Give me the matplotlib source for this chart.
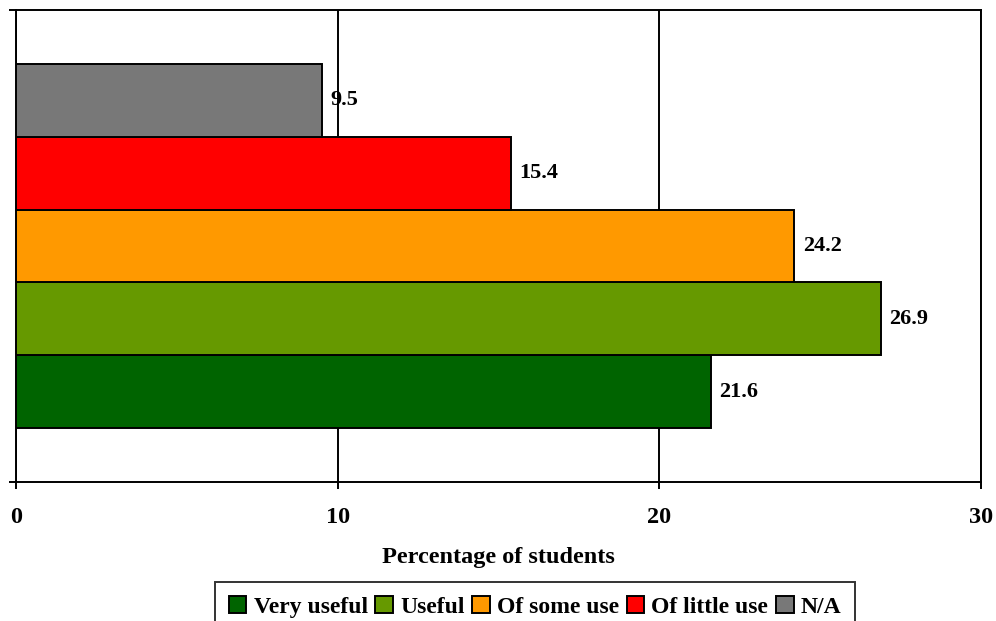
import matplotlib
matplotlib.use("Agg")
import matplotlib.pyplot as plt
import numpy as np

# Survey responses: how useful students found the resource
categories = ["Very useful", "Useful", "Of some use", "Of little use", "N/A"]
percentages = [21.6, 26.9, 24.2, 15.4, 9.5]
colors = ["#006400", "#669900", "#FF9900", "#FF0000", "#787878"]
x_ticks = [0, 10, 20, 30]

plt.rcParams["font.family"] = ["Liberation Serif", "DejaVu Serif"]
plt.rcParams["font.weight"] = "bold"

fig = plt.figure(figsize=(9.96, 6.21), dpi=100)
ax = fig.add_axes([16 / 996, 1 - 482 / 621, 965 / 996, 472 / 621])

n = len(categories)
bar_h = 0.771 / n
offsets = (np.arange(n) - (n - 1) / 2) * bar_h

for cat, val, col, off in zip(categories, percentages, colors, offsets):
    ax.barh(off, val, height=bar_h, color=col, edgecolor="black",
            linewidth=1.4, label=cat, zorder=3)
    ax.annotate(f"{val:.1f}", xy=(val, off), xytext=(6, 0),
                textcoords="offset points", ha="left", va="center",
                fontsize=16, fontweight="bold", zorder=4)

ax.set_xlim(0, 30)
ax.set_ylim(-0.5, 0.5)
ax.set_xticks(x_ticks)
ax.set_xticklabels([str(t) for t in x_ticks], fontsize=17.5, fontweight="bold")
ax.set_yticks([-0.5, 0.5])
ax.set_yticklabels([])
ax.tick_params(axis="both", direction="out", length=5, width=1.4, color="black")
ax.tick_params(axis="x", pad=13)
ax.xaxis.grid(True, color="black", linewidth=1.4, zorder=0)
ax.set_axisbelow(True)
for s in ax.spines.values():
    s.set_linewidth(1.4)
    s.set_color("black")

ax.set_xlabel("Percentage of students", fontsize=17.5, fontweight="bold", labelpad=14)

leg = fig.legend(loc="upper center", bbox_to_anchor=(535 / 996, 1 - 582 / 621),
                 ncol=n, fontsize=17, frameon=True, fancybox=False,
                 edgecolor="black", handlelength=0.75, handleheight=0.75,
                 handletextpad=0.3, columnspacing=0.32, borderpad=0.6,
                 borderaxespad=0)
leg.get_frame().set_linewidth(1.4)
for t in leg.get_texts():
    t.set_fontweight("bold")

fig.savefig("out.png", dpi=100)
